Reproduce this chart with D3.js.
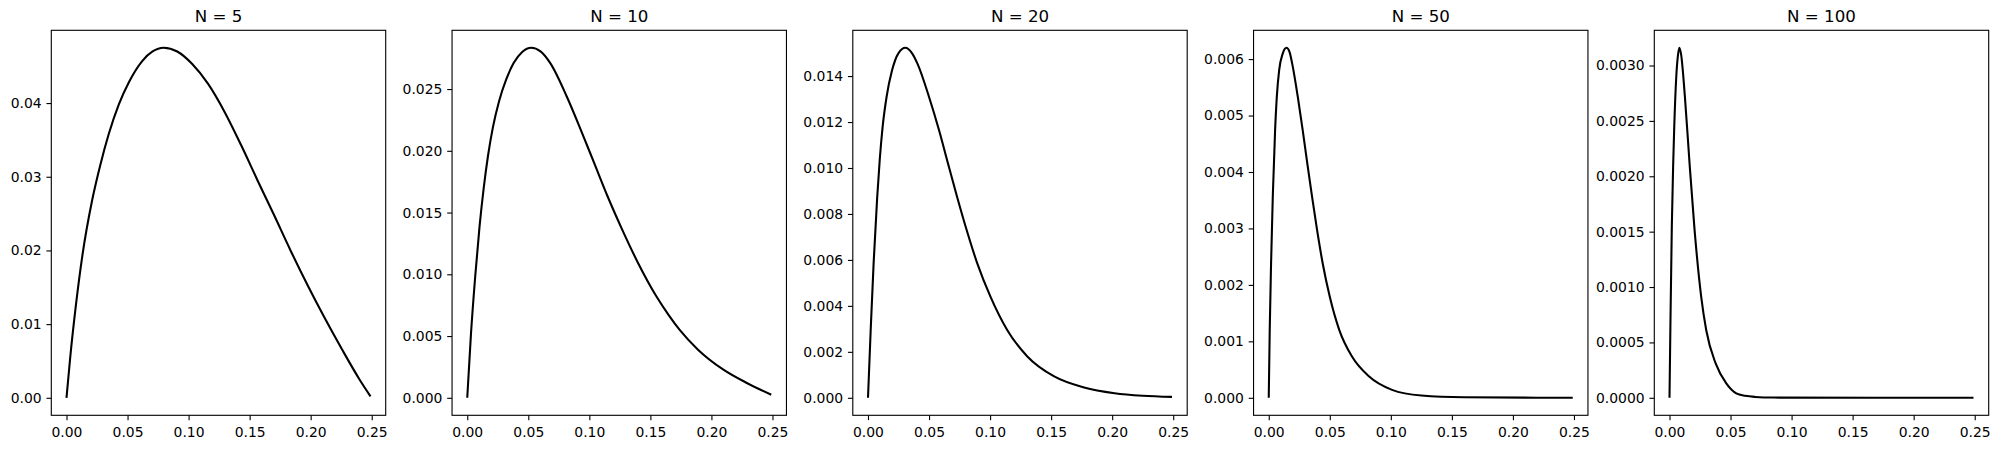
<!DOCTYPE html>
<html>
<head>
<meta charset="utf-8">
<script src="https://d3js.org/d3.v7.min.js"></script>
<style>
  html, body { margin: 0; padding: 0; background: #fff; }
  svg { display: block; }
  text { font-family: "DejaVu Sans", sans-serif; fill: #000; }
</style>
</head>
<body>
<div id="chart"></div>
<script>
// values, one curve per panel
var titles = ['N = 5', 'N = 10', 'N = 20', 'N = 50', 'N = 100'];

var x5 = [0, 0.003, 0.0078, 0.0130, 0.0210, 0.0277, 0.0346, 0.0428, 0.0510, 0.0620, 0.0705, 0.0795,
  0.0907, 0.1030, 0.1160, 0.1295, 0.1430, 0.1565, 0.1700, 0.1835, 0.1975, 0.2115, 0.2255, 0.2400, 0.2490];
var y5 = [0, 0.0054, 0.0127, 0.0193, 0.0268, 0.0316, 0.0358, 0.0398, 0.0428, 0.0457, 0.0470, 0.0475,
  0.0470, 0.0453, 0.0426, 0.0388, 0.0343, 0.0295, 0.0248, 0.0200, 0.01527, 0.01082, 0.00662, 0.00249, 0.0002];

var x10 = [0, 0.003, 0.0065, 0.0100, 0.0135, 0.0170, 0.0210, 0.0260, 0.0320, 0.0380, 0.0450, 0.0524, 0.0600, 0.0680,
  0.0815, 0.0930, 0.1040, 0.1150, 0.1270, 0.1400, 0.1550, 0.1650, 0.1740, 0.1890, 0.2095, 0.2290, 0.2490];
var y10 = [0, 0.0051, 0.0098, 0.0138, 0.0170, 0.0196, 0.0219, 0.0240, 0.0258, 0.0271, 0.0280, 0.02834, 0.02805, 0.0271,
  0.0244, 0.0217, 0.0190, 0.0163, 0.0136, 0.0109, 0.0082, 0.0067, 0.0055, 0.0039, 0.0023, 0.0012, 0.00025];

var x20 = [0, 0.0022, 0.0046, 0.0075, 0.0096, 0.0120, 0.0152, 0.0197, 0.0250, 0.0306, 0.0360, 0.0405,
  0.0500, 0.0582, 0.0655, 0.0730, 0.0808, 0.0895, 0.1003, 0.1140, 0.1305, 0.1525, 0.1770, 0.2020, 0.2250, 0.2490];
var y20 = [0, 0.00295, 0.00585, 0.0087, 0.01035, 0.0118, 0.01309, 0.01425, 0.0150, 0.01523, 0.0150, 0.01454,
  0.01309, 0.01164, 0.0102, 0.00874, 0.0073, 0.00585, 0.0044, 0.00295, 0.0018, 0.00093, 0.00045, 0.0002, 0.00009, 0.00004];

var x50 = [0, 0.0008, 0.0019, 0.0033, 0.0052, 0.0066, 0.0085, 0.0115, 0.0145, 0.0170, 0.0192, 0.0238,
  0.0278, 0.0316, 0.0355, 0.0396, 0.0442, 0.0500, 0.0578, 0.0682, 0.0820, 0.1010, 0.1250, 0.1600, 0.2490];
var y50 = [0, 0.0012, 0.00238, 0.00356, 0.00474, 0.00533, 0.0058, 0.0061, 0.0062, 0.00613, 0.00592, 0.00533,
  0.00474, 0.00415, 0.00356, 0.00297, 0.00238, 0.00179, 0.0012, 0.00073, 0.00038, 0.00014, 0.00004, 0.00001, 0];

var x100 = [0, 0.0008, 0.0019, 0.0030, 0.0039, 0.0055, 0.0068, 0.0081, 0.0095, 0.0126, 0.0164, 0.0205, 0.0260,
  0.0301, 0.0378, 0.0465, 0.0547, 0.0620, 0.0700, 0.0850, 0.2490];
var y100 = [0, 0.0007, 0.00155, 0.0021, 0.00245, 0.00289, 0.00308, 0.00316, 0.00310, 0.00272, 0.00212, 0.00152, 0.00091,
  0.00061, 0.00031, 0.00013, 0.00004, 0.000018, 0.000008, 0.000002, 0];

var xTicks = [0, 0.05, 0.10, 0.15, 0.20, 0.25];
var yTicks5 = [0, 0.01, 0.02, 0.03, 0.04];
var yTicks10 = [0, 0.005, 0.010, 0.015, 0.020, 0.025];
var yTicks20 = [0, 0.002, 0.004, 0.006, 0.008, 0.010, 0.012, 0.014];
var yTicks50 = [0, 0.001, 0.002, 0.003, 0.004, 0.005, 0.006];
var yTicks100 = [0, 0.0005, 0.0010, 0.0015, 0.0020, 0.0025, 0.0030];

var xs = [x5, x10, x20, x50, x100];
var ys = [y5, y10, y20, y50, y100];
var yTicks = [yTicks5, yTicks10, yTicks20, yTicks50, yTicks100];
var yFormats = ['.2f', '.3f', '.3f', '.3f', '.4f'];

var figW = 1999, figH = 449;
var plotTop = 30.3, plotH = 385, plotW = 334.4;
var left0 = 51.3, step = 400.75;
var tick = 4.86;

var svg = d3.select('#chart').append('svg')
    .attr('width', figW)
    .attr('height', figH);

// matplotlib style 5% margins around the data
function padded(ext) {
    var r = ext[1] - ext[0];
    return [ext[0] - 0.05 * r, ext[1] + 0.05 * r];
}

titles.forEach(function (title, i) {
    var data = xs[i].map(function (v, j) { return [v, ys[i][j]]; });

    var x = d3.scaleLinear().domain(padded(d3.extent(xs[i]))).range([0, plotW]);
    var y = d3.scaleLinear().domain(padded(d3.extent(ys[i]))).range([plotH, 0]);

    var g = svg.append('g')
        .attr('transform', 'translate(' + (left0 + i * step) + ',' + plotTop + ')');

    g.append('path')
        .datum(data)
        .attr('fill', 'none')
        .attr('stroke', '#000')
        .attr('stroke-width', 2.08)
        .attr('stroke-linejoin', 'round')
        .attr('d', d3.line()
            .x(function (d) { return x(d[0]); })
            .y(function (d) { return y(d[1]); })
            .curve(d3.curveMonotoneX));

    var xAxis = g.append('g')
        .attr('transform', 'translate(0,' + plotH + ')')
        .call(d3.axisBottom(x).tickValues(xTicks).tickFormat(d3.format('.2f'))
            .tickSize(tick).tickSizeOuter(0).tickPadding(tick));
    xAxis.selectAll('text').attr('dy', '11.5px');

    var yAxis = g.append('g')
        .call(d3.axisLeft(y).tickValues(yTicks[i]).tickFormat(d3.format(yFormats[i]))
            .tickSize(tick).tickSizeOuter(0).tickPadding(tick));

    [xAxis, yAxis].forEach(function (a) {
        a.select('.domain').remove();
        a.selectAll('line').attr('stroke', '#000').attr('stroke-width', 1.11);
        a.selectAll('text')
            .attr('font-family', '"DejaVu Sans", sans-serif')
            .attr('font-size', '13.9px')
            .attr('fill', '#000');
    });

    g.append('rect')
        .attr('width', plotW)
        .attr('height', plotH)
        .attr('fill', 'none')
        .attr('stroke', '#000')
        .attr('stroke-width', 1.11);

    g.append('text')
        .attr('x', plotW / 2)
        .attr('y', -8.4)
        .attr('text-anchor', 'middle')
        .attr('font-size', '16.67px')
        .text(title);
});
</script>
</body>
</html>
